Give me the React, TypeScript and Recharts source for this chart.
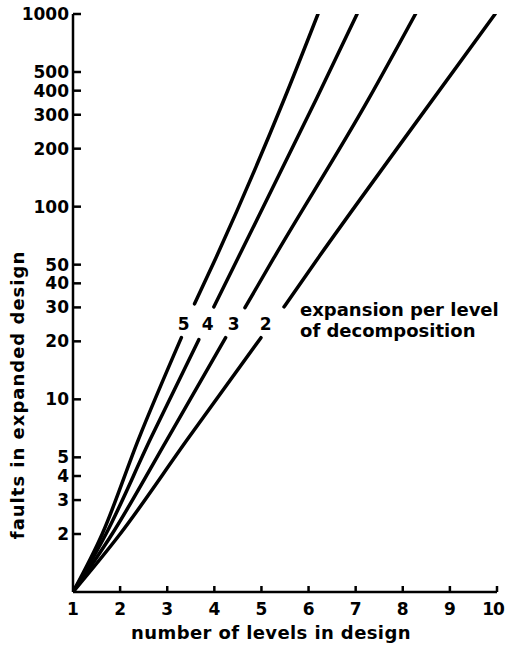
import React from 'react';
import {
  LineChart,
  Line,
  XAxis,
  YAxis,
  ReferenceDot,
} from 'recharts';

// [levels, faults] pairs; each curve is split where its expansion label sits
const line5Lower: [number, number][] = [[1, 1], [1.62, 2], [2.39, 6.2], [3.3, 20.9]];
const line5Upper: [number, number][] = [[3.58, 31.3], [4.03, 54], [5.48, 360], [6.2, 1000]];
const line4Lower: [number, number][] = [[1, 1], [1.7, 2], [2.64, 6.2], [3.67, 20.4]];
const line4Upper: [number, number][] = [[3.99, 30.2], [4.5, 54], [6.16, 360], [7.03, 1000]];
const line3Lower: [number, number][] = [[1, 1], [1.83, 2], [3.0, 6.2], [4.24, 20.9]];
const line3Upper: [number, number][] = [[4.65, 29.9], [5.26, 54], [7.27, 360], [8.27, 1000]];
const line2Lower: [number, number][] = [[1, 1], [2.0, 2], [3.43, 6.2], [4.99, 20.9]];
const line2Upper: [number, number][] = [[5.48, 30.2], [6.2, 54], [7.97, 215], [9.96, 1000]];

const expansions = [5, 4, 3, 2];
const expansionLabelLevels = [3.35, 3.86, 4.41, 5.09];
const expansionLabelFaults = 24.7;

const xTicks = [1, 2, 3, 4, 5, 6, 7, 8, 9, 10];
const yTicks = [2, 3, 4, 5, 10, 20, 30, 40, 50, 100, 200, 300, 400, 500, 1000];

const toRows = (pts: [number, number][]) => pts.map(([levels, faults]) => ({ levels, faults }));

const segments = [
  line5Lower, line5Upper,
  line4Lower, line4Upper,
  line3Lower, line3Upper,
  line2Lower, line2Upper,
];

const FONT = '"DejaVu Sans", sans-serif';
const INK = '#000';

const YTick = ({ x, y, payload }: any) => (
  <g>
    <line x1={x} x2={x + 8} y1={y} y2={y} stroke={INK} strokeWidth={2.5} />
    <text
      x={x - 4}
      y={y}
      textAnchor="end"
      dominantBaseline="central"
      fontFamily={FONT}
      fontWeight="bold"
      fontSize={17}
      fill={INK}
    >
      {payload.value}
    </text>
  </g>
);

const XTick = ({ x, y, payload }: any) => {
  // the last label sits against the right edge, nudge it inwards
  const last = payload.value === xTicks[xTicks.length - 1];
  return (
    <g>
      {payload.value !== 1 && (
        <line x1={x} x2={x} y1={y} y2={y - 6} stroke={INK} strokeWidth={2.5} />
      )}
      <text
        x={last ? x - 4 : x}
        y={y + 17}
        textAnchor="middle"
        dominantBaseline="central"
        fontFamily={FONT}
        fontWeight="bold"
        fontSize={17}
        letterSpacing={last ? -1 : 0}
        fill={INK}
      >
        {payload.value}
      </text>
    </g>
  );
};

const XTitle = ({ viewBox }: any) => (
  <text
    x={viewBox.x + viewBox.width / 2 - 14}
    y={viewBox.y + 40}
    textAnchor="middle"
    dominantBaseline="central"
    fontFamily={FONT}
    fontWeight="bold"
    fontSize={18}
    letterSpacing={0.4}
    fill={INK}
  >
    number of levels in design
  </text>
);

const YTitle = ({ viewBox }: any) => {
  const cx = viewBox.x + 17;
  const cy = viewBox.y + viewBox.height / 2 + 92;
  return (
    <text
      x={cx}
      y={cy}
      transform={`rotate(-90, ${cx}, ${cy})`}
      textAnchor="middle"
      dominantBaseline="central"
      fontFamily={FONT}
      fontWeight="bold"
      fontSize={18}
      letterSpacing={1}
      fill={INK}
    >
      faults in expanded design
    </text>
  );
};

const ExpansionNote = ({ viewBox }: any) => (
  <text fontFamily={FONT} fontWeight="bold" fontSize={18} fill={INK}>
    <tspan x={viewBox.x} y={viewBox.y - 7} dominantBaseline="central">
      expansion per level
    </tspan>
    <tspan x={viewBox.x} y={viewBox.y + 14} dominantBaseline="central">
      of decomposition
    </tspan>
  </text>
);

export default function App() {
  return (
    <div style={{ position: 'absolute', left: 0, top: 0, background: '#fff' }}>
      <LineChart
        width={506}
        height={645}
        margin={{ top: 14, right: 9, bottom: 0, left: 0 }}
      >
        <XAxis
          dataKey="levels"
          type="number"
          domain={[1, 10]}
          ticks={xTicks}
          height={53}
          tickSize={0}
          tickMargin={0}
          tickLine={false}
          axisLine={{ stroke: INK, strokeWidth: 2.5 }}
          tick={<XTick />}
          interval={0}
          allowDataOverflow
          label={<XTitle />}
        />
        <YAxis
          dataKey="faults"
          type="number"
          scale="log"
          domain={[1, 1000]}
          ticks={yTicks}
          width={73}
          tickSize={0}
          tickMargin={0}
          tickLine={false}
          axisLine={{ stroke: INK, strokeWidth: 2.5 }}
          tick={<YTick />}
          interval={0}
          allowDataOverflow
          label={<YTitle />}
        />
        {segments.map((seg, i) => (
          <Line
            key={`seg-${i}`}
            data={toRows(seg)}
            dataKey="faults"
            type="monotone"
            stroke={INK}
            strokeWidth={3.5}
            strokeLinecap="round"
            dot={false}
            isAnimationActive={false}
          />
        ))}
        {expansions.map((k, i) => (
          <ReferenceDot
            key={`exp-${k}`}
            x={expansionLabelLevels[i]}
            y={expansionLabelFaults}
            r={1}
            fill="none"
            stroke="none"
            label={{
              value: String(k),
              position: 'center',
              fontFamily: FONT,
              fontWeight: 'bold',
              fontSize: 17,
              fill: INK,
            }}
          />
        ))}
        <ReferenceDot
          x={5.84}
          y={26.5}
          r={1}
          fill="none"
          stroke="none"
          label={<ExpansionNote />}
        />
      </LineChart>
    </div>
  );
}
